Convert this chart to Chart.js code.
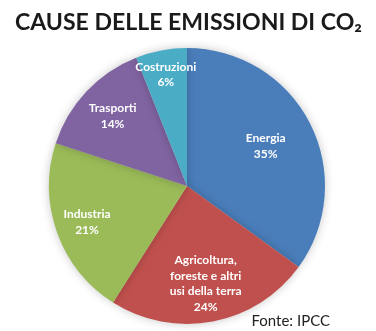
<!DOCTYPE html>
<html>
<head>
<meta charset="utf-8">
<script src="https://cdn.jsdelivr.net/npm/chart.js@4"></script>
<style>
  html, body { margin: 0; padding: 0; background: #fff; }
  #wrap { width: 376px; height: 331px; }
</style>
</head>
<body>
<div id="wrap"><canvas id="pie" width="376" height="331"></canvas></div>
<script>
// dati del grafico
const title = "CAUSE DELLE EMISSIONI DI CO₂";
const labels = [
  ["Energia"],
  ["Agricoltura,", "foreste e altri", "usi della terra"],
  ["Industria"],
  ["Trasporti"],
  ["Costruzioni"]
];
const values = [35, 24, 21, 14, 6];
const colors = ["#4a7ebb", "#c0504d", "#9bbb59", "#8064a2", "#4bacc6"];

// distanza delle etichette dal centro (frazione del raggio)
const labelDist = [0.64, 0.72, 0.77, 0.74, 0.82];

// titolo un po' allargato in orizzontale come nell'originale
const wideTitle = {
  id: "wideTitle",
  afterDraw(chart) {
    const ctx = chart.ctx;
    ctx.save();
    ctx.font = "bold 22px Lato, 'Open Sans', sans-serif";
    ctx.fillStyle = "#1a1a1a";
    ctx.textAlign = "left";
    ctx.textBaseline = "alphabetic";
    const w = ctx.measureText(title).width;
    const target = 347;
    ctx.translate(15, 30);
    ctx.scale(target / w, 1);
    ctx.fillText(title, 0, 0);
    ctx.restore();
  }
};

const sliceLabels = {
  id: "sliceLabels",
  afterDatasetsDraw(chart) {
    const ctx = chart.ctx;
    const meta = chart.getDatasetMeta(0);
    ctx.save();
    ctx.fillStyle = "#fff";
    ctx.font = "bold 12px Lato, 'Open Sans', sans-serif";
    ctx.textAlign = "center";
    ctx.textBaseline = "middle";
    meta.data.forEach((arc, i) => {
      const mid = (arc.startAngle + arc.endAngle) / 2;
      const r = arc.outerRadius * labelDist[i];
      const x = arc.x + Math.cos(mid) * r;
      const y = arc.y + Math.sin(mid) * r;
      const lines = labels[i].concat([values[i] + "%"]);
      const lh = 15.5;
      lines.forEach((t, j) => {
        ctx.fillText(t, x, y + (j - (lines.length - 1) / 2) * lh);
      });
    });
    ctx.restore();
  }
};

const shadow = {
  id: "shadow",
  beforeDatasetsDraw(chart) {
    const ctx = chart.ctx;
    ctx.save();
    ctx.shadowColor = "rgba(0,0,0,0.22)";
    ctx.shadowBlur = 10;
  },
  afterDatasetsDraw(chart) {
    chart.ctx.restore();
  }
};

const fonte = {
  id: "fonte",
  afterDraw(chart) {
    const ctx = chart.ctx;
    ctx.save();
    ctx.fillStyle = "#222";
    ctx.font = "15px Lato, 'Open Sans', sans-serif";
    ctx.textAlign = "right";
    ctx.textBaseline = "alphabetic";
    ctx.fillText("Fonte: IPCC", 330, 326);
    ctx.restore();
  }
};

new Chart(document.getElementById("pie"), {
  type: "pie",
  data: {
    labels: labels.map(l => l.join(" ")),
    datasets: [{
      data: values,
      backgroundColor: colors,
      borderWidth: 0
    }]
  },
  options: {
    responsive: false,
    animation: false,
    rotation: 0,
    layout: { padding: { top: 48, bottom: 7, left: 49, right: 51 } },
    plugins: {
      legend: { display: false },
      tooltip: { enabled: false },
      title: { display: false }
    }
  },
  plugins: [shadow, sliceLabels, fonte, wideTitle]
});
</script>
</body>
</html>
